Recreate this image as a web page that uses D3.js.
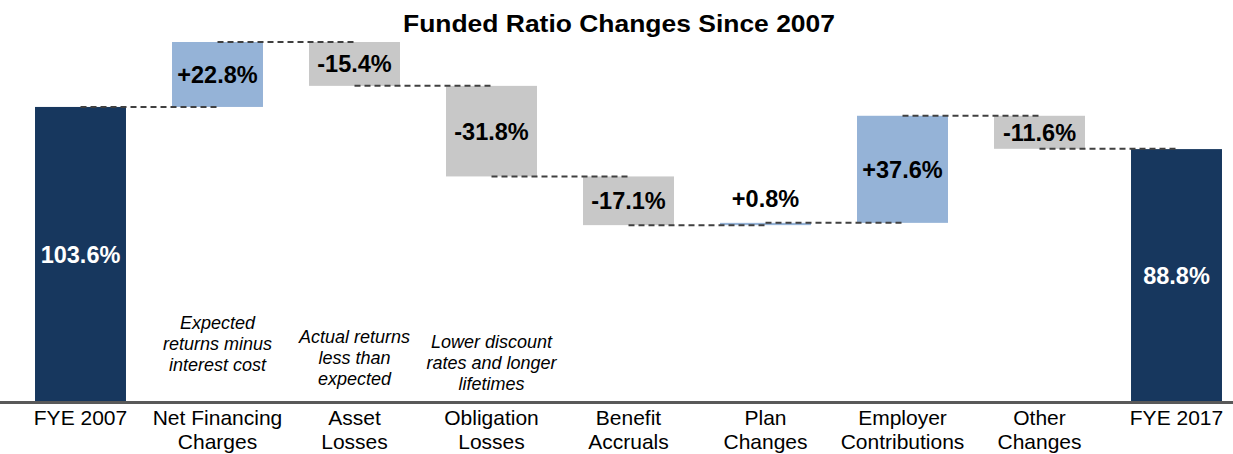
<!DOCTYPE html>
<html>
<head>
<meta charset="utf-8">
<script src="https://cdn.jsdelivr.net/npm/d3@7"></script>
<style>
  html, body { margin: 0; padding: 0; background: #fff; }
  svg { display: block; font-family: "Liberation Sans", Arial, sans-serif; }
</style>
</head>
<body>
<svg id="chart" width="1233" height="454"></svg>
<script>
// Funded ratio waterfall, FYE 2007 -> FYE 2017
const categories = [
  ["FYE 2007"], ["Net Financing", "Charges"], ["Asset", "Losses"],
  ["Obligation", "Losses"], ["Benefit", "Accruals"], ["Plan", "Changes"],
  ["Employer", "Contributions"], ["Other", "Changes"], ["FYE 2017"]
];
const startValue = 103.6;
const endValue = 88.8;
const changes = [22.8, -15.4, -31.8, -17.1, 0.8, 37.6, -11.6];
const notes = [
  null,
  ["Expected", "returns minus", "interest cost"],
  ["Actual returns", "less than", "expected"],
  ["Lower discount", "rates and longer", "lifetimes"],
  null, null, null, null, null
];

const colors = { total: "#17375E", up: "#95B3D7", down: "#C8C8C8", link: "#404040", axis: "#595959" };

// Build bar records: [low, high] for each step
const bars = [];
bars.push({ i: 0, y0: 0, y1: startValue, type: "total", end: startValue, label: startValue.toFixed(1) + "%" });
let running = startValue;
changes.forEach((c, k) => {
  const next = +(running + c).toFixed(1);
  bars.push({ i: k + 1, y0: Math.min(running, next), y1: Math.max(running, next),
    type: c >= 0 ? "up" : "down", end: next,
    label: (c >= 0 ? "+" : "") + c.toFixed(1) + "%" });
  running = next;
});
bars.push({ i: 8, y0: 0, y1: endValue, type: "total", end: endValue, label: endValue.toFixed(1) + "%" });

const svg = d3.select("#chart");
const x = d3.scaleBand().domain(d3.range(9)).range([12, 1245])
  .paddingInner(0.336).paddingOuter(0.168);
const y = d3.scaleLinear().domain([0, 141.15]).range([402, 0]);
const cx = i => x(i) + x.bandwidth() / 2;

// Title
svg.append("text").attr("x", 619).attr("y", 32).attr("text-anchor", "middle")
  .attr("font-size", 24).attr("font-weight", "bold").attr("fill", "#000")
  .attr("textLength", 432).attr("lengthAdjust", "spacingAndGlyphs")
  .text("Funded Ratio Changes Since 2007");

// Bars
svg.append("g").selectAll("rect").data(bars).join("rect")
  .attr("x", d => x(d.i)).attr("width", x.bandwidth())
  .attr("y", d => y(d.y1))
  .attr("height", d => Math.max(2, y(d.y0) - y(d.y1)))
  .attr("fill", d => colors[d.type]);

// Connector lines between bar centres
const links = bars.slice(0, 8).map((d, k) => ({ from: k, to: k + 1, v: d.end }));
svg.append("g").selectAll("line").data(links).join("line")
  .attr("x1", d => cx(d.from)).attr("x2", d => cx(d.to))
  .attr("y1", d => y(d.v)).attr("y2", d => y(d.v))
  .attr("stroke", colors.link).attr("stroke-width", 2)
  .attr("stroke-dasharray", "6,4");

// Value labels
svg.append("g").selectAll("text").data(bars).join("text")
  .attr("x", d => cx(d.i))
  .attr("y", d => {
    const h = y(d.y0) - y(d.y1);
    if (h < 24) return y(d.y1) - 24;
    return (y(d.y0) + y(d.y1)) / 2;
  })
  .attr("dy", "0.36em")
  .attr("text-anchor", "middle").attr("font-size", 23.5).attr("font-weight", "bold")
  .attr("fill", d => d.type === "total" ? "#fff" : "#000")
  .text(d => d.label);

// Baseline
svg.append("line").attr("x1", 0).attr("x2", 1233)
  .attr("y1", y(0) + 0.5).attr("y2", y(0) + 0.5)
  .attr("stroke", colors.axis).attr("stroke-width", 3);

// Category labels
const catG = svg.append("g");
categories.forEach((lines, i) => {
  const t = catG.append("text").attr("text-anchor", "middle")
    .attr("font-size", 21).attr("fill", "#000");
  lines.forEach((ln, j) => {
    t.append("tspan").attr("x", cx(i)).attr("y", 425 + j * 24).text(ln);
  });
});

// Italic explanatory notes under the steps
const noteTop = { 1: 329, 2: 343, 3: 348 };
notes.forEach((lines, i) => {
  if (!lines) return;
  const t = svg.append("text").attr("text-anchor", "middle")
    .attr("font-size", 18).attr("font-style", "italic").attr("fill", "#000");
  lines.forEach((ln, j) => {
    t.append("tspan").attr("x", cx(i)).attr("y", noteTop[i] + j * 21).text(ln);
  });
});
</script>
</body>
</html>
